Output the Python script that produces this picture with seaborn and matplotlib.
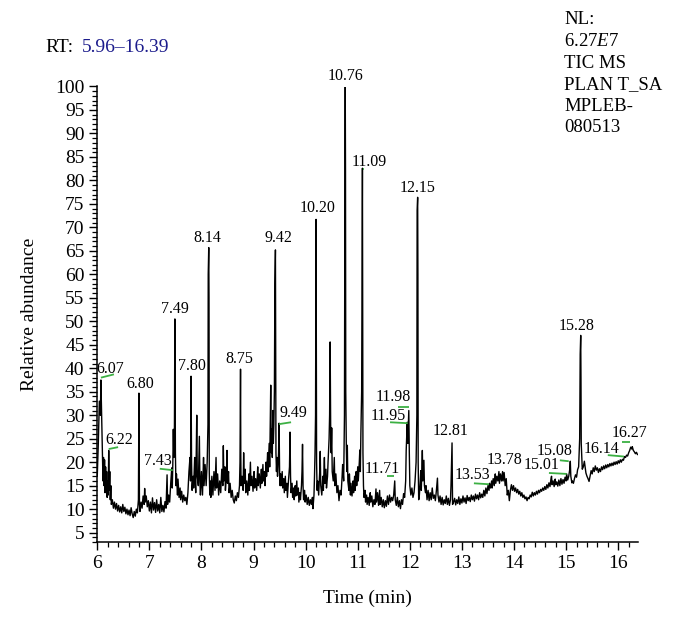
import matplotlib
matplotlib.use("Agg")
import matplotlib.pyplot as plt
import seaborn as sns
import pandas as pd
from matplotlib.ticker import MultipleLocator

sns.set_theme(style="ticks")
plt.rcParams['font.family'] = ['Liberation Serif', 'DejaVu Serif']
plt.rcParams['mathtext.fontset'] = 'custom'
plt.rcParams['mathtext.rm'] = 'Liberation Serif'
plt.rcParams['mathtext.it'] = 'Liberation Serif:italic'

# ---- chromatogram trace (time [min], relative abundance) ----
seg_a = [(6.00, 17), (6.02, 24), (6.04, 33), (6.06, 30), (6.07, 37.5), (6.08, 32), (6.09, 27),
         (6.10, 20), (6.11, 16), (6.12, 21), (6.13, 15), (6.14, 20.5), (6.15, 13.5), (6.16, 19),
         (6.17, 14), (6.18, 18), (6.19, 12.5), (6.20, 16), (6.21, 13), (6.22, 22.5), (6.23, 14),
         (6.24, 18), (6.25, 12), (6.26, 15), (6.27, 11), (6.29, 12), (6.31, 10.2)]
seg_b = [(6.33, 11.5), (6.35, 10), (6.37, 11.2), (6.39, 9.6), (6.41, 10.8), (6.43, 9.4), (6.45, 10.5),
         (6.47, 9.2), (6.49, 11), (6.51, 9.5), (6.53, 10.4), (6.55, 9), (6.57, 10), (6.59, 8.8),
         (6.61, 9.8), (6.63, 8.6), (6.65, 10.3), (6.67, 9), (6.69, 8.2), (6.71, 9.5), (6.73, 8.5),
         (6.75, 10), (6.77, 9.2), (6.79, 12), (6.80, 34.7), (6.805, 24), (6.81, 11), (6.82, 9.5)]
seg_c = [(6.84, 11.5), (6.86, 10.2), (6.88, 12.8), (6.90, 11), (6.91, 14.4), (6.92, 11.5), (6.94, 12.8),
         (6.96, 10.5), (6.98, 11.8), (7.00, 9.6), (7.02, 11.5), (7.04, 9.2), (7.06, 12.4), (7.08, 9.8),
         (7.10, 11.4), (7.12, 9.3), (7.14, 12), (7.16, 9.6), (7.18, 11), (7.20, 9.2), (7.22, 12.5),
         (7.24, 9.5), (7.26, 10.8), (7.28, 9.4), (7.30, 11.6), (7.32, 10.2), (7.34, 17.3), (7.35, 11),
         (7.37, 13), (7.39, 11.5), (7.41, 15.5), (7.43, 18.8), (7.44, 14.5), (7.45, 19.5), (7.46, 27),
         (7.47, 21), (7.48, 24), (7.49, 50.5), (7.50, 22)]
seg_d = [(7.51, 15), (7.52, 17.5), (7.54, 13), (7.55, 16.4), (7.57, 12.5), (7.59, 14.5), (7.60, 12),
         (7.62, 13.8), (7.64, 11.5), (7.66, 13), (7.68, 11.8), (7.70, 12.5), (7.72, 11), (7.74, 13.5),
         (7.76, 18), (7.78, 21), (7.79, 16), (7.80, 38.3), (7.81, 20), (7.82, 14), (7.84, 17),
         (7.85, 14.5), (7.87, 21), (7.88, 16), (7.89, 13.5), (7.91, 30), (7.92, 17), (7.94, 15),
         (7.96, 25.5), (7.97, 16), (7.98, 13), (8.00, 18), (8.02, 13), (8.04, 21), (8.05, 15),
         (8.07, 19.5), (8.09, 15), (8.11, 20), (8.125, 28), (8.13, 60), (8.14, 65.7), (8.145, 55),
         (8.15, 18), (8.16, 13)]
seg_e = [(8.17, 16), (8.18, 12.5), (8.20, 17), (8.22, 13), (8.24, 18), (8.26, 14), (8.28, 21),
         (8.29, 14.5), (8.31, 17.5), (8.33, 13), (8.35, 16), (8.37, 13.5), (8.39, 18.5), (8.41, 15),
         (8.42, 23.5), (8.43, 16), (8.45, 19), (8.46, 14), (8.48, 17), (8.49, 22.5), (8.50, 15.5),
         (8.52, 18), (8.53, 13.5), (8.55, 15.5), (8.57, 12.5), (8.59, 14), (8.61, 12), (8.63, 11.3),
         (8.65, 12.8), (8.67, 11.8), (8.69, 13.5), (8.71, 12.5), (8.73, 15), (8.74, 20), (8.75, 39.8),
         (8.755, 22), (8.76, 15)]
seg_f = [(8.78, 17), (8.80, 14), (8.81, 22), (8.82, 15.5), (8.84, 18.5), (8.85, 13.5), (8.87, 16),
         (8.89, 13), (8.91, 17.5), (8.92, 14), (8.94, 20), (8.95, 15), (8.97, 17), (8.99, 13.8),
         (9.01, 18), (9.02, 14.5), (9.04, 16.5), (9.06, 14), (9.08, 19), (9.09, 15), (9.11, 17.5),
         (9.13, 14.5), (9.15, 18.5), (9.16, 15.5), (9.18, 19.5), (9.19, 16), (9.21, 18), (9.22, 15),
         (9.24, 20), (9.25, 17), (9.27, 22), (9.28, 18), (9.30, 24), (9.31, 19), (9.33, 36.4),
         (9.34, 22), (9.35, 27), (9.36, 21), (9.37, 31), (9.38, 24), (9.39, 28), (9.40, 35),
         (9.41, 58), (9.42, 65.2), (9.425, 40), (9.43, 22), (9.44, 18), (9.45, 21), (9.46, 17),
         (9.47, 19), (9.48, 22), (9.49, 28.3), (9.50, 18), (9.51, 15)]
seg_g = [(9.52, 17.5), (9.53, 15), (9.55, 18), (9.56, 14.5), (9.58, 16.5), (9.59, 13.5), (9.61, 17),
         (9.62, 14), (9.64, 15.5), (9.65, 12.5), (9.67, 16), (9.69, 19), (9.70, 26.4), (9.71, 17),
         (9.72, 13.5), (9.74, 15.5), (9.75, 12.5), (9.77, 14.5), (9.78, 12), (9.80, 15), (9.81, 12.8),
         (9.83, 16), (9.84, 13), (9.86, 14.5), (9.87, 11.5), (9.89, 13.5), (9.90, 12), (9.92, 15),
         (9.93, 18), (9.94, 23.8), (9.95, 15), (9.96, 12), (9.98, 14), (9.99, 11.5), (10.01, 13),
         (10.03, 11), (10.05, 12.5), (10.07, 10.8), (10.09, 12), (10.11, 11), (10.13, 12.5),
         (10.14, 10.1), (10.16, 13), (10.17, 17), (10.18, 22), (10.19, 30), (10.195, 51),
         (10.20, 71.7), (10.205, 45), (10.21, 20), (10.22, 14)]
seg_h = [(10.23, 16), (10.25, 13), (10.27, 18), (10.28, 22.3), (10.29, 15), (10.31, 13), (10.33, 17),
         (10.34, 14), (10.36, 21), (10.37, 15.5), (10.39, 18.5), (10.40, 14.5), (10.42, 17),
         (10.43, 20), (10.45, 25), (10.46, 30), (10.47, 45.6), (10.48, 28), (10.49, 22), (10.50, 27.3),
         (10.51, 18), (10.53, 16), (10.55, 21), (10.56, 15), (10.58, 17.5), (10.60, 13.5), (10.62, 15),
         (10.64, 11.8), (10.66, 14), (10.68, 13), (10.70, 17), (10.71, 19.5), (10.73, 16),
         (10.745, 30), (10.755, 86), (10.76, 100), (10.765, 82), (10.77, 35), (10.78, 24), (10.79, 18)]
seg_i = [(10.80, 23.6), (10.81, 16), (10.83, 14), (10.84, 17.5), (10.86, 13), (10.87, 15.5),
         (10.89, 12.8), (10.91, 16), (10.92, 13.5), (10.94, 17), (10.95, 14), (10.97, 18), (10.98, 15),
         (11.00, 19), (11.01, 16), (11.03, 20), (11.04, 22.6), (11.05, 18), (11.06, 26), (11.075, 35),
         (11.085, 67), (11.09, 82.6), (11.095, 55), (11.10, 22), (11.11, 15)]
seg_j = [(11.12, 12.5), (11.14, 14), (11.15, 11.5), (11.17, 13), (11.18, 11), (11.20, 12.5),
         (11.22, 10.8), (11.24, 13.5), (11.25, 11.5), (11.27, 12.8), (11.29, 10.5), (11.31, 12),
         (11.33, 11), (11.35, 14.3), (11.36, 11.5), (11.38, 13.5), (11.40, 10.8), (11.42, 14),
         (11.43, 11), (11.45, 12.5), (11.47, 10.5), (11.49, 12), (11.51, 10.3), (11.53, 11.8),
         (11.55, 10.6), (11.57, 12.8), (11.59, 11), (11.61, 13), (11.63, 11.5), (11.65, 12.5),
         (11.67, 11.8), (11.69, 13), (11.71, 16), (11.72, 12), (11.74, 10.8), (11.76, 12.5),
         (11.78, 10.5), (11.80, 11.8), (11.82, 10.1), (11.84, 12), (11.86, 11), (11.88, 13.3),
         (11.90, 12.5), (11.92, 16), (11.93, 22.5), (11.95, 28.5), (11.96, 24), (11.98, 31),
         (11.99, 22), (12.00, 15), (12.02, 13), (12.04, 14.5), (12.06, 12.5), (12.08, 13.5),
         (12.10, 16), (12.12, 20), (12.135, 30), (12.14, 73.6), (12.15, 76.4), (12.155, 60),
         (12.16, 20), (12.17, 12)]
seg_k = [(12.18, 12.5), (12.20, 16), (12.21, 18.2), (12.22, 14), (12.24, 22.5), (12.25, 16),
         (12.27, 20.4), (12.28, 15), (12.30, 13.5), (12.31, 15), (12.33, 12), (12.35, 14),
         (12.37, 11.8), (12.39, 13.5), (12.41, 12), (12.43, 14.5), (12.45, 12.3), (12.47, 13),
         (12.49, 11.8), (12.51, 14), (12.53, 16.6), (12.54, 13), (12.56, 11.5), (12.58, 12.8),
         (12.60, 11), (12.62, 12.5), (12.64, 10.9), (12.66, 12), (12.68, 11.2), (12.70, 12.8),
         (12.72, 11), (12.74, 12.3), (12.76, 10.8), (12.78, 12), (12.79, 15), (12.80, 20),
         (12.81, 24.1), (12.815, 18), (12.82, 11)]
seg_l = [(12.84, 11.5), (12.86, 12.3), (12.88, 10.9), (12.90, 12), (12.92, 11.2), (12.94, 12.6),
         (12.96, 11), (12.98, 12.2), (13.00, 11.3), (13.02, 12.8), (13.04, 11.5), (13.06, 12.4),
         (13.08, 11.2), (13.10, 12.9), (13.12, 11.8), (13.14, 12.5), (13.16, 11.6), (13.18, 13),
         (13.20, 12), (13.22, 12.8), (13.24, 11.7), (13.26, 13.2), (13.28, 12.2), (13.30, 13),
         (13.32, 12), (13.34, 13.5), (13.36, 12.4), (13.38, 13.2), (13.40, 12.5), (13.42, 14),
         (13.44, 12.8), (13.46, 14.5), (13.48, 13.3), (13.50, 15), (13.52, 14), (13.53, 15.5),
         (13.55, 14.5), (13.57, 16), (13.58, 14.5), (13.60, 16.5), (13.62, 15), (13.64, 17.5),
         (13.65, 15.5), (13.67, 17), (13.69, 16), (13.71, 18), (13.72, 15.5), (13.74, 17.5),
         (13.76, 16), (13.78, 18), (13.79, 16), (13.81, 17.8), (13.83, 15), (13.85, 16.5)]
seg_m = [(13.87, 13), (13.89, 14), (13.91, 11.8), (13.93, 14), (13.95, 15.2), (13.97, 14),
         (13.99, 15), (14.01, 13.8), (14.03, 14.5), (14.05, 13.5), (14.07, 14.2), (14.09, 13.2),
         (14.11, 13.8), (14.13, 12.8), (14.15, 13.5), (14.17, 12.5), (14.19, 13), (14.21, 12.2),
         (14.23, 12.6), (14.25, 11.8), (14.27, 12.5), (14.29, 12.2), (14.31, 13), (14.33, 12.6),
         (14.35, 13.6), (14.37, 12.8), (14.39, 13.5), (14.41, 13), (14.43, 13.8), (14.45, 13.2),
         (14.47, 14), (14.49, 13.5), (14.51, 14.2), (14.53, 13.8), (14.55, 14.5), (14.57, 14),
         (14.59, 14.8), (14.61, 14.2), (14.63, 15.2)]
seg_n = [(14.65, 14.5), (14.67, 15.6), (14.69, 14.8), (14.71, 16.5), (14.72, 17), (14.73, 15.2),
         (14.75, 16), (14.77, 14.8), (14.79, 16.4), (14.80, 15.2), (14.82, 15.8), (14.84, 14.9),
         (14.86, 16.2), (14.88, 15), (14.90, 16.5), (14.92, 15.3), (14.94, 16.3), (14.96, 15.5),
         (14.98, 16.8), (15.00, 16), (15.01, 17.5), (15.03, 16.2), (15.05, 17), (15.07, 18.5),
         (15.08, 20.2), (15.09, 17), (15.11, 15.6), (15.12, 16), (15.14, 15.5), (15.16, 16.5),
         (15.18, 17.3), (15.20, 16.8), (15.22, 18.4), (15.24, 19), (15.26, 25), (15.27, 43),
         (15.28, 47), (15.285, 38), (15.29, 24)]
seg_o = [(15.31, 18.5), (15.33, 19), (15.35, 20.2), (15.37, 18.5), (15.38, 17.7), (15.40, 17),
         (15.42, 16.5), (15.44, 15.9), (15.46, 17), (15.48, 18.2), (15.50, 17.5), (15.52, 18.8),
         (15.54, 18), (15.56, 19.2), (15.58, 18.3), (15.60, 18.8), (15.62, 17.8), (15.64, 18.6),
         (15.66, 18), (15.68, 19), (15.70, 18.4), (15.72, 19.2), (15.74, 18.6), (15.76, 19.4),
         (15.78, 18.8), (15.80, 19.5), (15.82, 19), (15.84, 19.7), (15.86, 19.2), (15.88, 19.8),
         (15.90, 19.3), (15.92, 20), (15.94, 19.5), (15.96, 20.1), (15.98, 19.6), (16.00, 20.3),
         (16.02, 19.8), (16.04, 20.5), (16.06, 20), (16.08, 20.6), (16.10, 20.4), (16.12, 21.2),
         (16.14, 21), (16.16, 21.5), (16.18, 21.3), (16.20, 22), (16.22, 22.5), (16.24, 23.2),
         (16.26, 22.8), (16.27, 23.3), (16.29, 22.5), (16.31, 22.2), (16.33, 21.8), (16.35, 22.1),
         (16.37, 21.6)]

# ---- peak labels: text and where it sits (time, abundance) ----
peak_text = ["6.07", "6.22", "6.80", "7.43", "7.49", "7.80", "8.14", "8.75", "9.42", "9.49",
             "10.20", "10.76", "11.09", "12.15", "11.98", "11.95", "11.71", "12.81", "13.53",
             "13.78", "15.01", "15.08", "15.28", "16.14", "16.27"]
peak_text_t = [6.24, 6.43, 6.82, 7.16, 7.49, 7.82, 8.12, 8.72, 9.47, 9.76,
               10.22, 10.77, 11.23, 12.15, 11.69, 11.58, 11.48, 12.79, 13.21,
               13.81, 14.52, 14.78, 15.21, 15.67, 16.22]
peak_text_v = [39.8, 24.7, 36.6, 20.2, 52.6, 40.5, 67.7, 42.0, 67.7, 30.5,
               74.1, 102.2, 83.9, 78.4, 33.9, 29.8, 18.5, 26.6, 17.2,
               20.4, 19.4, 22.4, 49.0, 22.8, 26.2]

# ---- green integration marks (t1, v1, t2, v2) ----
marks = [(6.07, 38.0, 6.32, 38.7), (6.22, 22.8, 6.40, 23.2), (7.20, 18.6, 7.45, 18.3),
         (9.49, 28.1, 9.72, 28.5), (11.10, 82.4, 11.12, 82.4), (11.56, 17.0, 11.69, 17.0),
         (11.62, 28.5, 11.96, 28.3), (11.77, 31.7, 11.98, 31.7), (13.23, 15.5, 13.52, 15.3),
         (14.67, 17.7, 15.01, 17.5), (14.88, 20.4, 15.05, 20.2), (15.80, 21.5, 16.11, 21.2),
         (16.07, 24.3, 16.22, 24.3)]

info_lines = ["NL:", r"6.27$\mathit{E}$7", "TIC MS", "PLAN T_SA", "MPLEB-", "080513"]

segments = [seg_a, seg_b, seg_c, seg_d, seg_e, seg_f, seg_g, seg_h, seg_i, seg_j, seg_k,
            seg_l, seg_m, seg_n, seg_o]
pts = [p for s in segments for p in s]
df = pd.DataFrame(pts, columns=["time", "abundance"])

W, H = 686, 623
fig = plt.figure(figsize=(W / 100, H / 100), dpi=100)
ax = fig.add_axes([97 / W, 81 / H, 540.5 / W, 455.5 / H])
sns.lineplot(data=df, x="time", y="abundance", estimator=None, sort=False,
             color="black", linewidth=1.0, ax=ax)

ax.set_xlim(5.995, 16.37)
ax.set_ylim(3, 100)
ax.xaxis.set_major_locator(MultipleLocator(1))
ax.xaxis.set_minor_locator(MultipleLocator(0.2))
ax.yaxis.set_major_locator(MultipleLocator(5))
ax.yaxis.set_minor_locator(MultipleLocator(1))
ax.tick_params(which="major", direction="out", length=6, width=1.0, colors="black",
               labelsize=14, pad=3)
ax.tick_params(which="minor", direction="out", length=3.5, width=0.9, colors="black")
for side in ["top", "right"]:
    ax.spines[side].set_visible(False)
for side in ["left", "bottom"]:
    ax.spines[side].set_linewidth(1.1)
    ax.spines[side].set_color("black")

ax.set_xlabel("Time (min)", fontsize=14, labelpad=13, color="black")
ax.set_ylabel("Relative abundance", fontsize=14, labelpad=12, color="black")

for s, t, v in zip(peak_text, peak_text_t, peak_text_v):
    ax.text(t, v, s, ha="center", va="center", fontsize=11.5, color="black", clip_on=False)

for t1, v1, t2, v2 in marks:
    ax.plot([t1, t2], [v1, v2], color="#3cb043", linewidth=1.3, solid_capstyle="butt",
            clip_on=False)

fig.text(45 / W, 1 - 47 / H, "RT:", fontsize=14, ha="left", va="center", color="black")
fig.text(82 / W, 1 - 47 / H, "5.96\u201316.39", fontsize=14, ha="left", va="center",
         color="#1c1c8c")
for i, line in enumerate(info_lines):
    fig.text(564 / W, 1 - (20 + 21.6 * i) / H, line, fontsize=13.5, ha="left", va="center",
             color="black")

fig.savefig("out.png", dpi=100, facecolor="white")
